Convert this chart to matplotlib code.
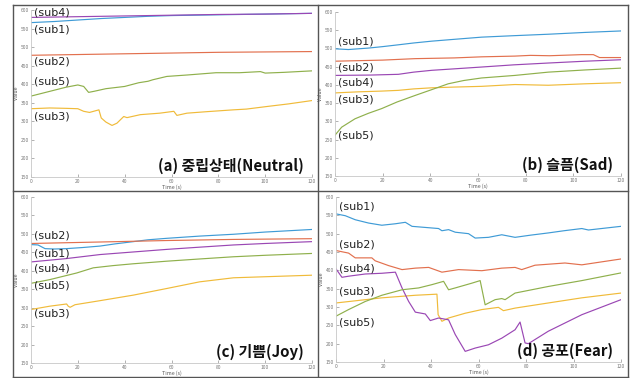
import matplotlib
matplotlib.use("Agg")
import matplotlib.pyplot as plt
from matplotlib.lines import Line2D

plt.rcParams['font.family'] = ['Noto Sans CJK KR', 'DejaVu Sans']

# ---------------- data ----------------
# Panel (a) Neutral
a_sub1_t = [0, 10, 20, 30, 40, 50, 60, 80, 100, 120]
a_sub1_v = [566, 569, 573, 577, 580, 583, 585, 587, 589, 591]
a_sub4_t = [0, 20, 40, 60, 80, 100, 120]
a_sub4_v = [580, 582, 584, 586, 588, 589, 591]
a_sub2_t = [0, 20, 40, 60, 80, 100, 120]
a_sub2_v = [478, 480, 482, 484, 486, 487, 488]
a_sub5_t = [0, 5, 10, 15, 20, 22.5, 24.6, 27, 32, 40, 46, 50, 52, 58, 67, 79, 89, 98, 100, 108, 120]
a_sub5_v = [368, 376, 384, 392, 398, 394, 378, 381, 388, 394, 404, 408, 412, 421, 425, 431, 431, 434, 430, 432, 436]
a_sub3_t = [0, 8, 15, 20, 22.5, 25, 29, 30, 32, 34.6, 36.7, 39.6, 41, 46.7, 55, 61, 62.3, 66.6, 75, 86.5, 92, 100.8, 110, 120]
a_sub3_v = [334, 336, 335, 334, 327, 324, 331, 309, 298, 289, 295, 313, 310, 318, 322, 327, 316, 322, 326, 331, 333, 340, 347, 356]

# Panel (b) Sad
b_sub1_t = [0, 5.6, 14, 20, 26.6, 33, 40.6, 50, 61.5, 75, 89.5, 105, 120]
b_sub1_v = [499, 497, 501, 505, 510, 515, 520, 525, 531, 535, 539, 544, 548]
b_sub2_t = [0, 20, 33.6, 50, 61.5, 75.5, 82, 90, 103.5, 108.4, 111, 120]
b_sub2_v = [465, 468, 472, 474, 477, 479, 481, 480, 483, 483, 475, 475]
b_sub4_t = [0, 15, 26.6, 33, 40.6, 50, 61.5, 75, 89.5, 105, 120]
b_sub4_v = [426, 427, 429, 435, 440, 444, 449, 455, 460, 465, 469]
b_sub3_t = [0, 10, 19.6, 26.6, 33, 40.6, 50, 61.5, 75.5, 89.5, 105, 120]
b_sub3_v = [378, 381, 383, 385, 389, 392, 394, 396, 401, 399, 403, 406]
b_sub5_t = [0, 2.8, 8.4, 14, 19.6, 26, 33.6, 40.6, 47.5, 54, 61.5, 75.5, 89.5, 105, 120]
b_sub5_v = [262, 284, 307, 322, 335, 353, 371, 387, 403, 412, 419, 426, 435, 441, 446]

# Panel (c) Joy
c_sub1_t = [0, 3, 6, 10, 15, 22, 29.5, 36, 43.7, 50, 58, 72, 86.5, 100, 120]
c_sub1_v = [471, 470, 460, 459, 460, 463, 467, 473, 479, 484, 488, 494, 499, 505, 512]
c_sub2_t = [0, 29.5, 58, 86.5, 120]
c_sub2_v = [474, 478, 482, 485, 487]
c_sub4_t = [0, 15, 29.5, 43.7, 58, 72, 86.5, 100, 120]
c_sub4_v = [424, 433, 444, 451, 458, 464, 470, 474, 479]
c_sub5_t = [0, 8, 19.5, 26.6, 35, 43.7, 58, 72, 86.5, 100, 120]
c_sub5_v = [366, 376, 394, 408, 414, 419, 426, 432, 438, 442, 447]
c_sub3_t = [0, 8, 15.2, 15.9, 16.7, 18.8, 29.5, 43.7, 58, 72, 86.5, 100.7, 120]
c_sub3_v = [295, 304, 310, 304, 301, 308, 319, 334, 352, 370, 381, 384, 388]

# Panel (d) Fear
d_sub1_t = [0, 3.9, 8.1, 13.7, 19.3, 25, 29.2, 32, 37.6, 43.2, 44.6, 47.4, 50.2, 55.8, 58.6, 64.2, 69.8, 75.4, 82, 89.4, 96, 103.5, 106.3, 120]
d_sub1_v = [554, 549, 538, 529, 523, 527, 531, 520, 517, 514, 508, 511, 504, 500, 488, 490, 497, 490, 496, 502, 508, 514, 510, 520]
d_sub2_t = [0, 5.3, 8.1, 15.1, 16.5, 22.1, 27.8, 33.4, 39, 44.6, 51.6, 61.4, 69.8, 75.4, 78.2, 83.8, 96.4, 103.5, 120]
d_sub2_v = [454, 447, 434, 434, 426, 413, 402, 406, 408, 395, 402, 399, 406, 408, 402, 414, 420, 415, 431]
d_sub4_t = [0, 2.5, 5.3, 12.3, 19.3, 25, 27.8, 30.6, 33.4, 37.6, 39.7, 43.2, 47.4, 50.2, 54.4, 58.6, 64.2, 69.8, 75.4, 77.5, 79.6, 81, 89.4, 103.5, 120]
d_sub4_v = [404, 381, 384, 390, 392, 395, 352, 315, 286, 281, 263, 270, 265, 225, 179, 188, 197, 215, 238, 259, 202, 200, 234, 279, 320]
d_sub5_t = [0, 5.3, 12.3, 19.3, 27.8, 34.8, 40.4, 45.3, 47.4, 50.2, 57.2, 60.7, 62.8, 67, 69.8, 71.2, 75.4, 89.4, 103.5, 120]
d_sub5_v = [275, 293, 315, 332, 347, 352, 361, 370, 347, 352, 365, 372, 306, 320, 323, 320, 338, 356, 372, 393]
d_sub3_t = [0, 19.3, 33.4, 42.5, 43.0, 44.6, 47.4, 54.4, 61.4, 68.4, 70.5, 75.4, 89.4, 103.5, 120]
d_sub3_v = [311, 325, 332, 335, 279, 261, 270, 283, 293, 299, 290, 297, 311, 325, 338]

panel_titles = ['(a) 중립상태(Neutral)', '(b) 슬픔(Sad)', '(c) 기쁨(Joy)', '(d) 공포(Fear)']
sub_names = ['sub1', 'sub2', 'sub3', 'sub4', 'sub5']

panels = [
    {'sub1': (a_sub1_t, a_sub1_v), 'sub2': (a_sub2_t, a_sub2_v), 'sub3': (a_sub3_t, a_sub3_v),
     'sub4': (a_sub4_t, a_sub4_v), 'sub5': (a_sub5_t, a_sub5_v)},
    {'sub1': (b_sub1_t, b_sub1_v), 'sub2': (b_sub2_t, b_sub2_v), 'sub3': (b_sub3_t, b_sub3_v),
     'sub4': (b_sub4_t, b_sub4_v), 'sub5': (b_sub5_t, b_sub5_v)},
    {'sub1': (c_sub1_t, c_sub1_v), 'sub2': (c_sub2_t, c_sub2_v), 'sub3': (c_sub3_t, c_sub3_v),
     'sub4': (c_sub4_t, c_sub4_v), 'sub5': (c_sub5_t, c_sub5_v)},
    {'sub1': (d_sub1_t, d_sub1_v), 'sub2': (d_sub2_t, d_sub2_v), 'sub3': (d_sub3_t, d_sub3_v),
     'sub4': (d_sub4_t, d_sub4_v), 'sub5': (d_sub5_t, d_sub5_v)},
]

# label y-positions (data units) for the "(subN)" annotations
label_y = [
    {'sub4': 594, 'sub1': 548, 'sub2': 461, 'sub5': 407, 'sub3': 313},
    {'sub1': 520, 'sub2': 447, 'sub4': 406, 'sub3': 359, 'sub5': 262},
    {'sub2': 496, 'sub1': 446, 'sub4': 406, 'sub5': 360, 'sub3': 283},
    {'sub1': 573, 'sub2': 470, 'sub4': 406, 'sub3': 343, 'sub5': 258},
]

x_ticks = [0, 20, 40, 60, 80, 100, 120]
y_ticks = [150, 200, 250, 300, 350, 400, 450, 500, 550, 600]

colors = {'sub1': '#3f9bd6', 'sub2': '#e2704e', 'sub3': '#f0bb3a',
          'sub4': '#9a47b4', 'sub5': '#8fb04c'}

# ---------------- figure ----------------
W, H = 631, 378
fig = plt.figure(figsize=(W / 100, H / 100), dpi=100)

boxes = [
    (31, 312, 10, 177),
    (335, 621, 12, 176),
    (31, 312, 197, 363),
    (336, 621, 197, 362),
]

for i, (x0, x1, y0, y1) in enumerate(boxes):
    ax = fig.add_axes([x0 / W, 1 - y1 / H, (x1 - x0) / W, (y1 - y0) / H])
    for name in ['sub1', 'sub2', 'sub3', 'sub4', 'sub5']:
        t, v = panels[i][name]
        ax.plot(t, v, color=colors[name], lw=0.85)
    for name, yv in label_y[i].items():
        ax.text(1.2, yv, f'({name})', fontsize=8, color='#222222',
                va='center', ha='left', family=['DejaVu Sans'])
    ax.text(116.5, 181, panel_titles[i], fontsize=10.8, fontweight='bold',
            ha='right', va='center', color='#111111')
    ax.set_xlim(0, 120)
    ax.set_ylim(150, 600)
    ax.set_xticks(x_ticks)
    ax.set_yticks(y_ticks)
    ax.tick_params(labelsize=3.5, colors='#777777', length=2, width=0.4,
                   direction='in', pad=1.5)
    ax.set_xlabel('Time (s)', fontsize=3.8, color='#555555', labelpad=0.5)
    ax.set_ylabel('Value', fontsize=3.8, color='#555555', labelpad=1)
    for s in ['top', 'right']:
        ax.spines[s].set_visible(False)
    for s in ['left', 'bottom']:
        ax.spines[s].set_color('#c8c8c8')
        ax.spines[s].set_linewidth(0.6)
    ax.set_facecolor('none')

# frame lines around and between the panels
fc = '#555555'
def fline(xs, ys):
    fig.add_artist(Line2D([x / W for x in xs], [1 - y / H for y in ys],
                          color=fc, lw=1.0, transform=fig.transFigure))

fline([13, 628], [5, 5])
fline([13, 628], [377, 377])
fline([13, 13], [5, 377])
fline([628, 628], [5, 377])
fline([13, 628], [191, 191])
fline([318, 318], [5, 377])

fig.savefig('out.png', dpi=100, facecolor='white')
